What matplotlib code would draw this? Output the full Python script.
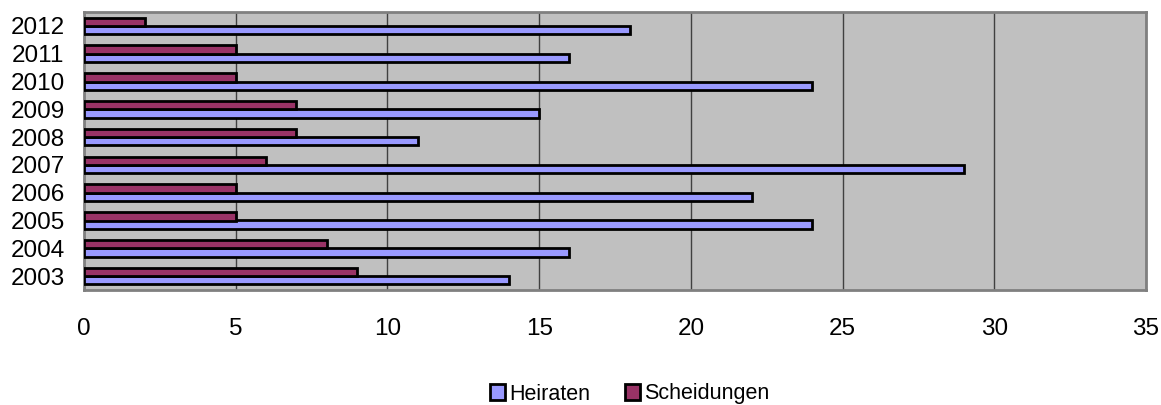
import matplotlib
matplotlib.use("Agg")
import matplotlib.pyplot as plt
import numpy as np
from matplotlib.patches import Patch

years = ["2003", "2004", "2005", "2006", "2007", "2008", "2009", "2010", "2011", "2012"]
heiraten = [14, 16, 24, 22, 29, 11, 15, 24, 16, 18]
scheidungen = [9, 8, 5, 5, 6, 7, 7, 5, 5, 2]

plt.rcParams['font.family'] = ['Liberation Sans', 'DejaVu Sans']

fig = plt.figure(figsize=(11.61, 4.05), dpi=100)
ax = fig.add_axes([84/1161, 1-290/405, (1146-84)/1161, (290-12)/405])
ax.set_facecolor('#C0C0C0')

y = np.arange(len(years))
h = 0.3
ax.barh(y - h/2, heiraten, height=h, color='#9999FF', edgecolor='black', linewidth=2, zorder=3)
ax.barh(y + h/2, scheidungen, height=h, color='#993366', edgecolor='black', linewidth=2, zorder=3)

ax.set_xlim(0, 35)
ax.set_ylim(-0.5, len(years) - 0.5)
ax.set_xticks(range(0, 36, 5))
ax.set_yticks(y)
ax.set_yticklabels(years)
ax.tick_params(axis='both', length=0, labelsize=17.5)
ax.tick_params(axis='x', pad=20.5)
ax.tick_params(axis='y', pad=14)
ax.xaxis.grid(True, color='#404040', linewidth=1, zorder=1)
ax.set_axisbelow(True)
for s in ax.spines.values():
    s.set_color('#808080')
    s.set_linewidth(2)

handles = [Patch(facecolor='#9999FF', edgecolor='black', linewidth=2, label='Heiraten'),
           Patch(facecolor='#993366', edgecolor='black', linewidth=2, label='Scheidungen')]
fig.legend(handles=handles, loc='center', bbox_to_anchor=(630/1161, 1-394/405), ncol=2,
           frameon=False, fontsize=15.5, handlelength=0.7, handleheight=0.7,
           handletextpad=0.2, columnspacing=1.6)

fig.savefig('out.png', dpi=100)
